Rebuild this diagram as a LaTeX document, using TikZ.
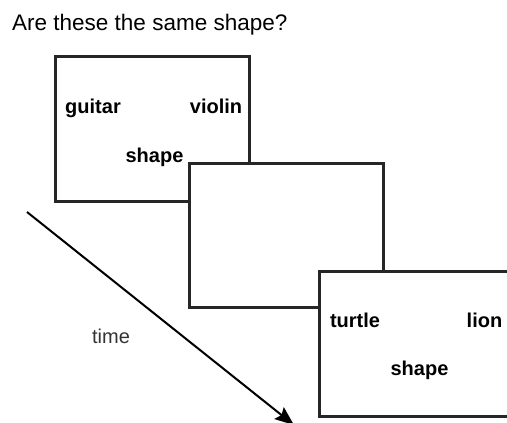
\documentclass[tikz,border=0pt]{standalone}
\usepackage{fontspec}
\setmainfont{Liberation Sans}
\usetikzlibrary{arrows.meta}
\begin{document}
\begin{tikzpicture}[x=1pt,y=-1pt,
  frame/.style={draw=black!85,line width=2.6pt,fill=white,minimum width=194pt,minimum height=145pt,inner sep=0pt,anchor=north west},
  word/.style={font=\fontsize{20}{24}\selectfont\bfseries,anchor=base,inner sep=0pt},
  plain/.style={font=\fontsize{20}{24}\selectfont,anchor=base,inner sep=0pt,text=black!80}]
\useasboundingbox (0,0) rectangle (507,423);
\node[anchor=base west,inner sep=0pt,font=\fontsize{22.5}{27}\selectfont] (title) at (12,30.5) {Are these the same shape?};
% first display
\node[frame] (b1) at (54,55) {};
\node[word] (guitar) at (93,113) {guitar};
\node[word] (violin) at (216,113) {violin};
\node[word] (shapeA) at (154.5,162) {shape};
% blank interval
\node[frame,minimum height=144pt] (b2) at (188,162) {};
% second display
\node[frame] (b3) at (318,270) {};
\node[word] (turtle) at (355,327) {turtle};
\node[word] (lion) at (484.5,327) {lion};
\node[word] (shapeB) at (419.5,375) {shape};
% time axis
\node[plain] (time) at (111,343) {time};
\coordinate (t0) at (27,212);
\coordinate (t1) at (294,425);
\draw[line width=2pt,-{Stealth[length=19pt,width=15pt,inset=3pt]}] (t0) -- (t1);
\end{tikzpicture}
\end{document}
